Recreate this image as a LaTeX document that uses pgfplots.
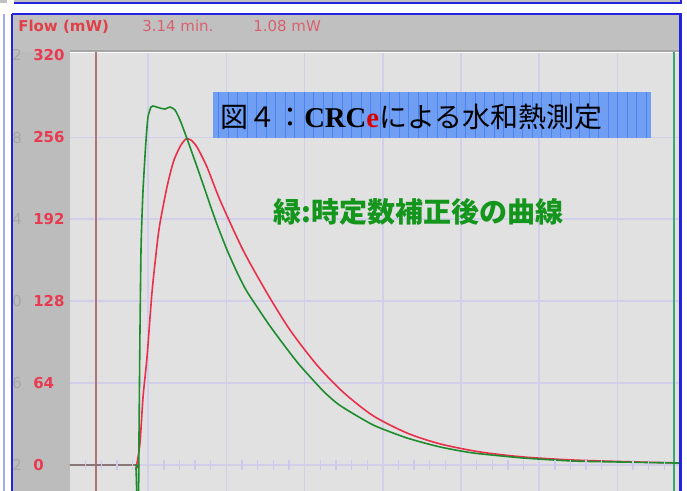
\documentclass[border=0pt]{standalone}
\usepackage{pgfplots}
\pgfplotsset{compat=1.18}
\usepackage{fontspec}
\setmainfont{DejaVu Sans}
\newfontfamily\cjk{Noto Sans CJK JP}
\newfontfamily\serifb{Liberation Serif}
\definecolor{plotbg}{HTML}{E1E1E1}
\definecolor{gridc}{HTML}{D2CFEA}
\definecolor{tickc}{HTML}{CCC8EE}
\definecolor{hdr}{HTML}{C0C0C0}
\definecolor{redline}{HTML}{E8304A}
\definecolor{greenline}{HTML}{1E8C2E}
\definecolor{cursor}{HTML}{B07474}
\definecolor{labred}{HTML}{E83A50}
\definecolor{hdrred}{HTML}{E04048}
\definecolor{hdrred2}{HTML}{D86070}
\definecolor{greentxt}{HTML}{14961C}
\definecolor{boxblue}{HTML}{6F9EF2}
\definecolor{boxgrid}{HTML}{4A84F0}
\definecolor{frameblue}{HTML}{2424DC}
\definecolor{basec}{HTML}{8A7676}
\definecolor{rgreen}{HTML}{3AA874}
\tikzset{px/.style={x=0.75pt,y=-0.75pt,shift={(0pt,368.25pt)}}}
\begin{document}
\begin{tikzpicture}
\useasboundingbox (0pt,0pt) rectangle (515.25pt,368.25pt);
\clip (0pt,0pt) rectangle (515.25pt,368.25pt);
\begin{scope}[px]
\fill[white] (0,0) rectangle (687,491);
% top strip
\fill[hdr] (14,0) rectangle (681,3);
\draw[frameblue, line width=1.5] (14,3.5) -- (681,3.5) -- (681,0);
\fill[hdr] (0,0) rectangle (7,3);
\draw[frameblue!40, line width=1] (4,14) -- (4,491);
% header and label column
\fill[hdr] (13,15) rectangle (681,52);
\fill[hdr!98!black] (13,52) rectangle (70,491);
\draw[black!35, line width=1.5] (70,51.5) -- (681,51.5);
\node[anchor=base west, inner sep=0, text=hdrred, font=\bfseries\fontsize{11.25}{13}\selectfont] at (18,31.5) {Flow (mW)};
\node[anchor=base west, inner sep=0, text=hdrred2, font=\fontsize{11.25}{13}\selectfont] at (142,31.5) {3.14 min.};
\node[anchor=base west, inner sep=0, text=hdrred2, font=\fontsize{11.25}{13}\selectfont] at (253,31.5) {1.08 mW};
\foreach \d/\yy in {2/55,8/138,4/219,0/301,6/383,2/465}
  \node[anchor=west, inner sep=0, text=black!35, font=\fontsize{11.25}{13}\selectfont] at (12,\yy) {\d};
\end{scope}
\begin{axis}[
  at={(52.5pt,0pt)}, anchor=south west,
  scale only axis, width=457.5pt, height=328.5pt,
  xmin=0, xmax=7.8, ymin=-20.3, ymax=321.9,
  axis line style={draw=none}, tick style={draw=none},
  xtick={1,2,3,4,5,6,7}, xticklabels={},
  ytick={0,64,128,192,256}, yticklabels={0,64,128,192,256},
  extra y ticks={320}, extra y tick labels={320},
  extra y tick style={grid=none},
  yticklabel style={anchor=west, inner sep=0pt, xshift=-27.75pt, text=labred, font=\bfseries\fontsize{11.25}{13}\selectfont},
  grid=major, major grid style={draw=gridc, line width=1.2pt},
  axis background/.style={fill=plotbg},
  clip=true,
]
% minor ticks on zero line
\addplot[only marks, mark=|, mark size=4pt, mark options={draw=tickc, line width=1pt}] coordinates {
(0.2,0)(0.4,0)(0.6,0)(0.8,0)(1.2,0)(1.4,0)(1.6,0)(1.8,0)(2.2,0)(2.4,0)(2.6,0)(2.8,0)
(3.2,0)(3.4,0)(3.6,0)(3.8,0)(4.2,0)(4.4,0)(4.6,0)(4.8,0)(5.2,0)(5.4,0)(5.6,0)(5.8,0)
(6.2,0)(6.4,0)(6.6,0)(6.8,0)(7.2,0)(7.4,0)(7.6,0)};
% cursor lines
\addplot[cursor, line width=1.2pt] coordinates {(0.333,-30)(0.333,330)};
\addplot[rgreen, line width=1.5pt] coordinates {(7.724,-30)(7.724,330)};
% red: measured
\addplot[redline, line width=1.2pt, smooth, tension=0.45] coordinates {
(0,0)(0.831,0)(0.844,-2.3)(0.857,1.6)(0.895,17.2)(0.934,53.1)(0.985,84.4)(1.049,135.2)
(1.113,171.9)(1.151,189.1)(1.240,217.2)(1.317,235.9)(1.368,243.8)(1.419,250.0)(1.483,254.7)
(1.547,253.9)(1.624,248.4)(1.752,232.8)(1.918,207.0)(2.212,168.0)(2.519,134.4)(2.813,105.5)
(3.159,78.0)(3.491,57.0)(3.875,38.5)(4.309,25.0)(4.731,16.5)(5.243,10.2)(5.793,6.3)
(6.432,3.9)(7.289,2.3)(7.801,1.6)};
% green: corrected
\addplot[greenline, line width=1.2pt, smooth, tension=0.35] coordinates {
(0,0)(0.818,0)(0.844,-3.1)(0.857,-27)(0.876,-27)(0.882,19.5)(0.895,105.5)(0.908,168)
(0.921,195.3)(0.934,214.8)(0.946,228.1)(0.972,253.9)(0.997,271.9)(1.036,279.7)(1.061,280.5)
(1.151,278.9)(1.215,278.1)(1.279,279.7)(1.343,277.3)(1.407,269.5)(1.496,255.0)(1.624,233.0)
(1.726,215.0)(1.790,203.5)(1.880,188.0)(2.008,168.0)(2.136,150.5)(2.263,135.5)(2.558,108.5)
(2.903,80.5)(3.235,58.0)(3.453,46.5)(3.875,31.3)(4.309,21.1)(4.731,14.1)(5.153,9.4)
(5.793,5.5)(6.432,3.1)(7.072,2.3)(7.711,1.6)(7.801,1.6)};
% shared baseline before the injection
\addplot[basec, line width=1.4pt] coordinates {(0,0)(0.831,0)};
\end{axis}
\begin{scope}[px]
% main frame
\draw[frameblue, line width=2] (12,14) -- (680.5,14) -- (680.5,495);
\draw[frameblue, line width=2] (12,14) -- (12,495);
% title box
\fill[boxblue] (213,92) rectangle (651,138);
\begin{scope}
\clip (213,92) rectangle (651,138);
\draw[boxgrid, line width=0.6, step=9.5] (213,92) grid (651,138);
\end{scope}
\node[anchor=west, inner sep=0] at (220,117) {\fontsize{21}{22}\selectfont\cjk 図４：\serifb\bfseries\fontsize{21.5}{22}\selectfont CRC\textcolor{red!85!black}{e}\cjk\mdseries\fontsize{21}{22}\selectfont による水和熱測定};
\node[anchor=west, inner sep=0, text=greentxt] at (273,212) {\fontsize{21}{22}\selectfont\cjk\bfseries 緑:時定数補正後の曲線};
\end{scope}
\end{tikzpicture}
\end{document}
